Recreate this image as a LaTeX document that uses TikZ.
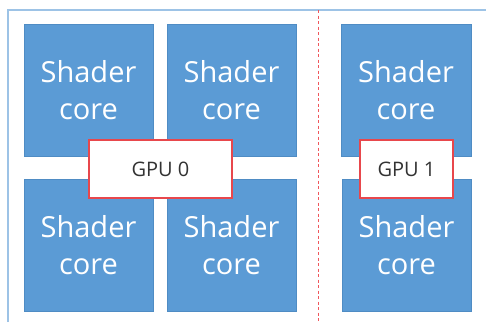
\documentclass[tikz,border=0pt]{standalone}
\usepackage{fontspec}
\setmainfont{Open Sans}
\definecolor{corefill}{HTML}{5B9BD5}
\definecolor{coreedge}{HTML}{4F8CC4}
\definecolor{framecol}{HTML}{9DC3E6}
\definecolor{gpuedge}{HTML}{E8474C}
\definecolor{dashcol}{HTML}{F0575C}
\definecolor{gputext}{HTML}{333333}
\begin{document}
\begin{tikzpicture}[x=1pt,y=-1pt,
  corebox/.style={draw=coreedge,line width=0.6pt,fill=corefill,text=white,
    font=\fontsize{29}{37}\selectfont,align=center,inner sep=0pt},
  gpubox/.style={draw=gpuedge,line width=1.4pt,fill=white,text=gputext,
    font=\fontsize{20}{24}\selectfont,inner sep=0pt}]
\useasboundingbox (0,0) rectangle (486,322);
\fill[white] (0,0) rectangle (486,322);
% frame
\draw[framecol,line width=1.5pt] (8,322) -- (8,10) -- (486,10);
% divider
\draw[dashcol,line width=1pt,dash pattern=on 3pt off 2.5pt] (318,10) -- (318,322);
% shader cores
\node[corebox,minimum width=129pt,minimum height=132pt] (c1) at (88.5,90) {Shader\\core};
\node[corebox,minimum width=129pt,minimum height=132pt] (c2) at (231.5,90) {Shader\\core};
\node[corebox,minimum width=130pt,minimum height=132pt] (c3) at (406,90) {Shader\\core};
\node[corebox,minimum width=129pt,minimum height=132pt] (c4) at (88.5,245) {Shader\\core};
\node[corebox,minimum width=129pt,minimum height=132pt] (c5) at (231.5,245) {Shader\\core};
\node[corebox,minimum width=129pt,minimum height=132pt] (c6) at (406.5,245) {Shader\\core};
% GPU labels
\node[gpubox,minimum width=143pt,minimum height=58pt] (g0) at (160.5,169) {GPU 0};
\node[gpubox,minimum width=93pt,minimum height=58pt] (g1) at (406.5,169) {GPU 1};
\end{tikzpicture}
\end{document}
